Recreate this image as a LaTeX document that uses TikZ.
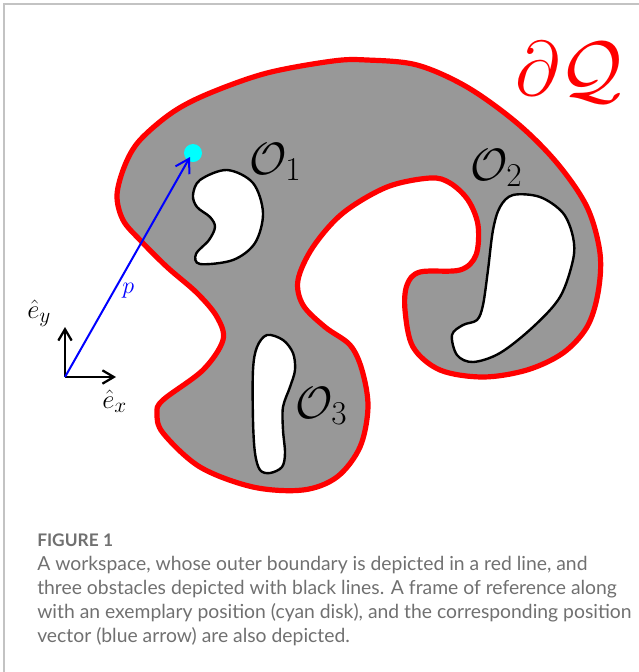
\RequirePackage{fix-cm}
\documentclass[tikz,border=0pt]{standalone}
\usepackage{fontspec}
\newfontfamily\capfont{Lato}
\usetikzlibrary{arrows.meta}
\DeclareMathSizes{34}{34}{25}{18}
\DeclareMathSizes{58}{58}{40}{30}
\DeclareMathSizes{20}{20}{16}{11}
\DeclareMathSizes{18}{18}{14}{10}
\definecolor{wsgray}{RGB}{152,152,152}
\definecolor{capgray}{RGB}{112,112,112}
\definecolor{framegray}{RGB}{195,195,195}
\definecolor{diskcyan}{RGB}{0,255,255}
\definecolor{vecblue}{RGB}{0,0,255}
\definecolor{bred}{RGB}{255,0,0}
\tikzset{
  boundary/.style={fill=wsgray, draw=bred, line width=3.9pt, line join=round},
  obstacle/.style={fill=white, draw=black, line width=1.8pt},
  olabel/.style={inner sep=0pt, font=\fontsize{34}{38}\selectfont},
  vlabel/.style={inner sep=0pt, font=\fontsize{20}{22}\selectfont},
  plabel/.style={inner sep=0pt, font=\fontsize{18}{20}\selectfont},
  axis/.style={draw=black, line width=1.7pt, -{Straight Barb[length=8.5pt,width=10pt]}},
  posvec/.style={draw=vecblue, line width=1.5pt, -{Straight Barb[length=10pt,width=12pt]}},
  captext/.style={inner sep=0pt, anchor=base west, text=capgray, font=\capfont\fontsize{14.5}{16}\selectfont},
  framerule/.style={draw=framegray, line width=1pt}
}
\begin{document}
\begin{tikzpicture}[x=0.75pt,y=-0.75pt]
\useasboundingbox (0,0) rectangle (639,672);
% frame
\draw[framerule] (639,4) -- (4,4) -- (4,672);
% workspace
\path[boundary] plot[smooth cycle, tension=0.55] coordinates {
 (117,195) (125,165) (140,140) (173,112) (210,93) (267,73) (333,61) (367,60)
 (417,65) (467,87) (517,123) (557,163) (587,207) (600,253) (598,293) (587,327)
 (563,353) (527,370) (483,377) (440,370) (413,347) (405,310) (407,285) (420,272)
 (460,270) (476,255) (478,225) (468,200) (450,183) (430,178) (387,187) (343,213)
 (313,247) (298,280) (303,305) (325,327) (350,345) (362,370) (368,407) (360,447)
 (337,477) (303,490) (253,487) (200,467) (163,433) (157,413) (163,400) (203,370)
 (223,340) (217,317) (197,293) (167,267) (140,240) (123,220)};
% obstacles
\path[obstacle] plot[smooth cycle, tension=0.55] coordinates {
 (200,180) (227,170) (253,183) (263,213) (255,243) (233,260) (200,264) (196,254)
 (209,240) (215,227) (210,217) (197,207) (193,195)};
\path[obstacle] plot[smooth cycle, tension=0.55] coordinates {
 (513,195) (540,197) (563,213) (573,237) (573,260) (560,297) (533,327) (500,353)
 (473,362) (457,355) (452,335) (463,325) (477,320) (483,305) (488,270) (493,230) (500,207)};
\path[obstacle] plot[smooth cycle, tension=0.55] coordinates {
 (267,335) (283,340) (293,353) (295,370) (290,387) (283,407) (283,430) (285,453)
 (282,467) (270,473) (260,470) (255,453) (253,420) (253,370) (257,347)};
% labels
\node[olabel, anchor=base west] (o1) at (249,174) {$\mathcal{O}_1$};
\node[olabel, anchor=base west] (o2) at (470,180) {$\mathcal{O}_2$};
\node[olabel, anchor=base west] (o3) at (295,418) {$\mathcal{O}_3$};
\node[inner sep=0pt, anchor=base west, text=bred, font=\fontsize{58}{62}\selectfont] (dq) at (515,95) {$\partial\mathcal{Q}$};
% frame of reference
\coordinate (orig) at (65,377);
\coordinate (exend) at (116,377);
\coordinate (eyend) at (65,327);
\draw[axis] (orig) -- (exend);
\draw[axis] (orig) -- (eyend);
\node[vlabel, anchor=base west] (ex) at (102,408) {$\hat{e}_x$};
\node[vlabel, anchor=base west] (ey) at (27,318) {$\hat{e}_y$};
% position
\node[circle, fill=diskcyan, inner sep=0pt, minimum size=13.5pt] (pos) at (193,153) {};
\coordinate (tip) at (190,157);
\draw[posvec] (orig) -- (tip);
\node[plabel, anchor=base west, text=vecblue] (plab) at (122,293) {$p$};
% caption
\node[captext, font=\capfont\bfseries\fontsize{13}{16}\selectfont] (fig) at (37,546) {FIGURE 1};
\node[captext] (c1) at (37,570.5) {A workspace, whose outer boundary is depicted in a red line, and};
\node[captext] (c2) at (37,594.5) {three obstacles depicted with black lines. A frame of reference along};
\node[captext] (c3) at (37,618.5) {with an exemplary position (cyan disk), and the corresponding position};
\node[captext] (c4) at (37,642.5) {vector (blue arrow) are also depicted.};
\end{tikzpicture}
\end{document}
